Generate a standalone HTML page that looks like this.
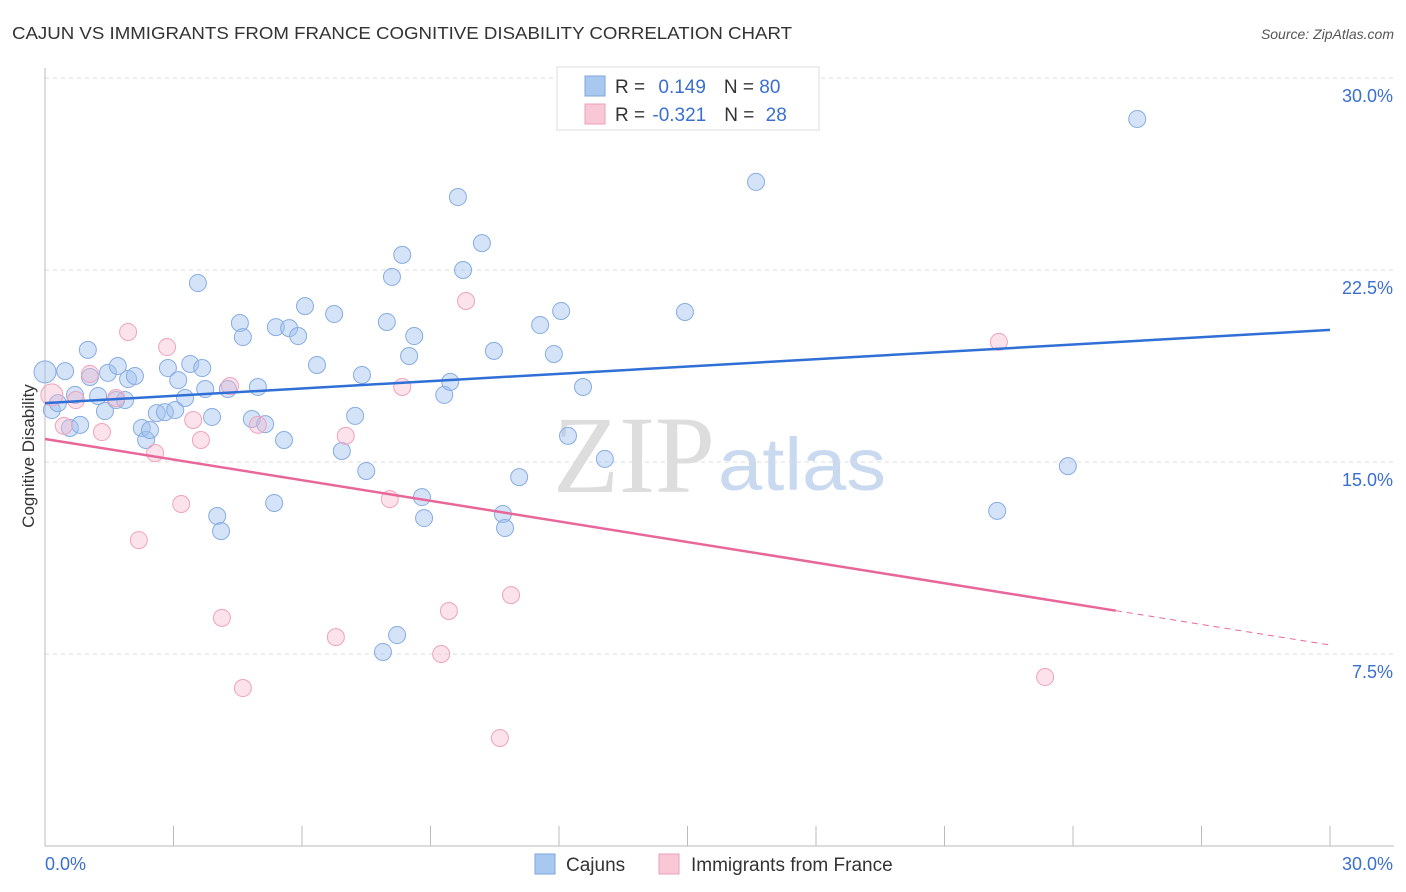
<!DOCTYPE html>
<html><head><meta charset="utf-8"><style>
body{margin:0;background:#fff;font-family:"Liberation Sans",sans-serif;}
svg{display:block}
</style></head><body>
<svg id="chart" width="1406" height="892">
<text x="12" y="39" font-size="17.5" fill="#333" textLength="780" lengthAdjust="spacingAndGlyphs">CAJUN VS IMMIGRANTS FROM FRANCE COGNITIVE DISABILITY CORRELATION CHART</text>
<text x="1394" y="39" font-size="14" fill="#555" font-style="italic" text-anchor="end">Source: ZipAtlas.com</text>
<text x="553" y="492" font-size="110" fill="#ddd" font-family="Liberation Serif,serif" textLength="162" lengthAdjust="spacingAndGlyphs">ZIP</text>
<text x="718" y="490" font-size="74" fill="#c9d9ef" textLength="168" lengthAdjust="spacingAndGlyphs">atlas</text>
<g id="grid"></g><g id="axes"></g><g id="marks"></g>
<text transform="translate(34,456) rotate(-90)" font-size="17" fill="#333" text-anchor="middle">Cognitive Disability</text>
<g>
<rect x="557" y="67" width="262" height="63" fill="#fff" stroke="#ddd"/>
<rect x="585" y="76" width="20" height="20" fill="#a9c8f0" stroke="#7ea6dc"/>
<rect x="585" y="104" width="20" height="20" fill="#f8c8d6" stroke="#ee9fb8"/>
<text x="615" y="93" font-size="19" fill="#333">R = <tspan fill="#3a6fd0" dx="8">0.149</tspan><tspan dx="18" fill="#333">N = </tspan><tspan fill="#3a6fd0">80</tspan></text>
<text x="615" y="121" font-size="19" fill="#333">R = <tspan fill="#3a6fd0" dx="2">-0.321</tspan><tspan dx="18" fill="#333">N = </tspan><tspan fill="#3a6fd0" dx="6">28</tspan></text>
</g>
<g>
<rect x="535" y="854" width="20" height="20" fill="#a9c8f0" stroke="#7ea6dc"/>
<text x="566" y="871" font-size="19" fill="#333">Cajuns</text>
<rect x="659" y="854" width="20" height="20" fill="#f8c8d6" stroke="#ee9fb8"/>
<text x="691" y="871" font-size="19" fill="#333">Immigrants from France</text>
</g>
</svg>
<script>
const yTicks=[7.5,15,22.5,30];
const yTickLabels=["7.5%","15.0%","22.5%","30.0%"];
const xTicks=[0,3,6,9,12,15,18,21,24,27,30];
const cajunX=[0,0.16,0.30,0.47,0.58,0.70,0.82,1.00,1.05,1.24,1.40,1.47,1.70,1.66,1.87,1.94,2.10,2.26,2.36,2.45,2.61,2.80,2.87,3.04,3.11,3.27,3.39,3.57,3.67,3.74,3.90,4.02,4.11,4.27,4.55,4.62,4.83,4.97,5.14,5.35,5.39,5.58,5.70,5.91,6.07,6.35,6.75,6.93,7.24,7.40,7.50,7.98,7.89,8.10,8.22,8.34,8.50,8.62,8.80,8.85,9.32,9.46,9.64,9.76,10.20,10.48,10.69,10.74,11.07,11.56,11.88,12.05,12.21,12.56,13.07,14.94,16.60,22.23,23.88,25.50];
const cajunY=[18.52,17.03,17.30,18.55,16.33,17.62,16.45,19.38,18.32,17.58,16.99,18.48,18.75,17.42,17.42,18.24,18.36,16.33,15.86,16.25,16.91,16.95,18.67,17.03,18.20,17.50,18.83,21.99,18.67,17.85,16.76,12.89,12.30,17.85,20.43,19.88,16.68,17.93,16.48,13.40,20.27,15.86,20.23,19.92,21.09,18.79,20.78,15.43,16.80,18.40,14.65,20.47,7.58,22.23,8.24,23.09,19.14,19.92,13.63,12.81,17.62,18.13,25.35,22.50,23.55,19.34,12.97,12.42,14.41,20.35,19.22,20.90,16.02,17.93,15.12,20.86,25.94,13.09,14.84,28.40];
const franceX=[0.16,0.44,0.72,1.05,1.33,1.66,1.94,2.19,2.57,2.85,3.18,3.46,3.64,4.13,4.32,4.62,4.97,6.79,7.02,8.05,8.34,9.25,9.43,9.83,10.62,10.88,22.27,23.35];
const franceY=[17.62,16.41,17.42,18.44,16.17,17.50,20.08,11.95,15.35,19.49,13.36,16.64,15.86,8.91,17.97,6.17,16.45,8.16,16.02,13.55,17.93,7.50,9.18,21.29,4.22,9.80,19.69,6.60];
const cajunTrend=[17.3,20.16];
const franceTrend=[15.9,7.85];
const franceSolidEnd=25;
const NS="http://www.w3.org/2000/svg";
const X=v=>45+v*42.833, Y=v=>846-v*25.6;
function mk(p,t,a){const e=document.createElementNS(NS,t);for(const k in a)e.setAttribute(k,a[k]);document.getElementById(p).appendChild(e);return e;}
yTicks.forEach((t,i)=>{
 const g=mk('grid','line',{x1:45,x2:1394,y1:Y(t),y2:Y(t),stroke:'#ddd','stroke-dasharray':'4,4'});
 
 
 const l=mk('axes','text',{x:1393,y:Y(t)+24,'font-size':18,fill:'#3a6fd0','text-anchor':'end'});
 l.textContent=yTickLabels[i];
 
 
});
const ax=mk('axes','line',{x1:45,x2:45,y1:68,y2:846,stroke:'#bbb'});


const bx=mk('axes','line',{x1:45,x2:1394,y1:846,y2:846,stroke:'#bbb'});


xTicks.forEach(t=>{const tk=mk('axes','line',{x1:X(t),x2:X(t),y1:826,y2:846,stroke:'#bbb'});
 
 });
const xl0=mk('axes','text',{x:45,y:870,'font-size':18,fill:'#3a6fd0'});xl0.textContent='0.0%';


const xl1=mk('axes','text',{x:1393,y:870,'font-size':18,fill:'#3a6fd0','text-anchor':'end'});xl1.textContent='30.0%';


cajunX.forEach((v,i)=>{const c=mk('marks','circle',{cx:X(v),cy:Y(cajunY[i]),r:i==0?11:8.5,fill:'rgba(160,194,240,0.45)',stroke:'#86ade2','stroke-width':1});
 
 });
franceX.forEach((v,i)=>{const c=mk('marks','circle',{cx:X(v),cy:Y(franceY[i]),r:i==0?11:8.5,fill:'rgba(246,182,204,0.4)',stroke:'#f0a3bd','stroke-width':1});
 
 });
const bl=mk('marks','line',{x1:X(0),y1:Y(cajunTrend[0]),x2:X(30),y2:Y(cajunTrend[1]),stroke:'#2f6fd6','stroke-width':2.5});


const fy=t=>franceTrend[0]+(franceTrend[1]-franceTrend[0])*t/30;
const pl=mk('marks','line',{x1:X(0),y1:Y(fy(0)),x2:X(franceSolidEnd),y2:Y(fy(franceSolidEnd)),stroke:'#e8679a','stroke-width':2.5});


const pd=mk('marks','line',{x1:X(franceSolidEnd),y1:Y(fy(franceSolidEnd)),x2:X(30),y2:Y(fy(30)),stroke:'#e8679a','stroke-width':1,'stroke-dasharray':'6,5'});


</script>
</body></html>
